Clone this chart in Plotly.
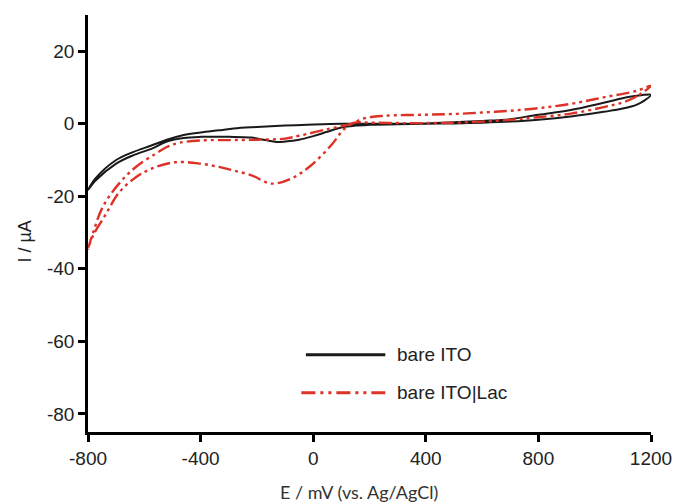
import plotly.graph_objects as go

# ---- data (E in mV, I in µA) ----
# bare ITO: cathodic scan 1200 -> -800
ito_cat_E = [1200, 1180, 1150, 1100, 1032, 915, 800, 700, 600, 500, 400, 300, 200, 150, 100, 50, 0,
             -50, -100, -130, -170, -220, -300, -400, -460, -520, -575, -640, -700, -775, -800]
ito_cat_I = [8.0, 6.6, 5.3, 4.2, 3.3, 2.0, 1.1, 0.6, 0.3, 0.1, 0.0, -0.1, -0.3, -0.5, -1.0, -2.2, -3.4,
             -4.4, -4.9, -5.0, -4.5, -3.8, -3.6, -3.6, -3.9, -4.9, -6.9, -8.7, -11.0, -15.8, -18.3]
# bare ITO: anodic scan -800 -> 1200
ito_an_E = [-800, -775, -700, -640, -575, -520, -460, -400, -335, -282, -200, -100, 0, 100, 200,
            400, 500, 600, 680, 800, 915, 1032, 1119, 1165, 1200]
ito_an_I = [-17.8, -15.2, -10.0, -7.8, -6.0, -4.4, -3.1, -2.4, -1.8, -1.3, -0.9, -0.5, -0.2, 0.0, 0.0,
            0.1, 0.4, 0.8, 1.1, 2.5, 3.8, 5.8, 7.4, 7.9, 8.0]

# bare ITO|Lac: cathodic scan 1200 -> -800
lac_cat_E = [1200, 1150, 1100, 1032, 915, 797, 700, 600, 500, 400, 300, 200, 147, 112, 63, -8,
             -78, -149, -219, -282, -335, -400, -490, -572, -631, -690, -737, -783, -800]
lac_cat_I = [10.5, 7.6, 5.9, 4.6, 2.8, 1.8, 1.1, 0.6, 0.3, 0.2, 0.2, 0.3, 0.3, -1.3, -6.0, -11.5,
             -15.1, -16.5, -14.2, -12.9, -11.9, -11.0, -10.6, -12.3, -14.8, -19.0, -25.0, -31.0, -34.5]
# bare ITO|Lac: anodic scan -800 -> 1200
lac_an_E = [-800, -783, -748, -690, -631, -561, -520, -480, -400, -300, -200, -100, -50, 50, 134, 180,
            250, 400, 500, 600, 700, 800, 915, 1032, 1150, 1200]
lac_an_I = [-34.5, -30.3, -23.0, -16.5, -12.0, -8.3, -6.4, -5.3, -4.6, -4.5, -4.4, -4.1, -3.3, -1.5, 0.0, 1.5,
            2.2, 2.5, 2.7, 3.1, 3.6, 4.3, 5.5, 7.3, 9.1, 10.5]

x_ticks = [-800, -400, 0, 400, 800, 1200]
y_ticks = [-80, -60, -40, -20, 0, 20]

legend_names = ["bare ITO", "bare ITO|Lac"]

BLACK = "#1a1a1a"
RED = "#dc3228"
RED_DASH = "13px,4px,3px,4px,3px,4px"
TEXT = "#222222"
FONT = "Liberation Sans, Arial, sans-serif"

fig = go.Figure()
fig.add_trace(go.Scatter(x=ito_cat_E + ito_an_E[1:], y=ito_cat_I + ito_an_I[1:],
                         mode="lines", line=dict(color=BLACK, width=2, shape="spline", smoothing=1.0),
                         name=legend_names[0], showlegend=False))
fig.add_trace(go.Scatter(x=lac_cat_E + lac_an_E[1:], y=lac_cat_I + lac_an_I[1:],
                         mode="lines", line=dict(color=RED, width=2.4, dash=RED_DASH,
                                                  shape="spline", smoothing=1.0),
                         name=legend_names[1], showlegend=False))

# manual legend (paper coordinates)
fig.add_shape(type="line", xref="paper", yref="paper", x0=0.387, x1=0.528, y0=0.185, y1=0.185,
              line=dict(color=BLACK, width=3))
fig.add_shape(type="line", xref="paper", yref="paper", x0=0.379, x1=0.528, y0=0.094, y1=0.094,
              line=dict(color=RED, width=3, dash="14px,5px,3px,5px,3px,5px"))
fig.add_annotation(xref="paper", yref="paper", x=0.545, y=0.185, text=legend_names[0],
                   showarrow=False, xanchor="left", yanchor="middle",
                   font=dict(family=FONT, size=19, color=TEXT))
fig.add_annotation(xref="paper", yref="paper", x=0.545, y=0.094, text=legend_names[1],
                   showarrow=False, xanchor="left", yanchor="middle",
                   font=dict(family=FONT, size=19, color=TEXT))

# axis titles
fig.add_annotation(xref="paper", yref="paper", x=(361 - 88) / 568, y=(432 - 492) / 417,
                   text="E / mV (vs. Ag/AgCl)", showarrow=False, xanchor="center", yanchor="middle",
                   font=dict(family="Lato, Open Sans, sans-serif", size=18, color="#333333"))
fig.add_annotation(xref="paper", yref="paper", x=(24 - 88) / 568, y=(432 - 242) / 417,
                   text="I / µA", showarrow=False, textangle=-90, xanchor="center", yanchor="middle",
                   font=dict(family=FONT, size=18, color=TEXT))

fig.update_xaxes(range=[-800, 1200], tickvals=x_ticks, ticktext=[str(v) for v in x_ticks],
                 showgrid=False, zeroline=False, showline=True, linecolor="black", linewidth=2.5,
                 ticks="outside", ticklen=7, tickwidth=2.5, tickcolor="black",
                 tickfont=dict(family=FONT, size=19, color=TEXT))
fig.update_yaxes(range=[-85, 30], tickvals=y_ticks, ticktext=[str(v) for v in y_ticks],
                 showgrid=False, zeroline=False, showline=True, linecolor="black", linewidth=2.5,
                 ticks="outside", ticklen=7, tickwidth=2.5, tickcolor="black",
                 tickfont=dict(family=FONT, size=19, color=TEXT))

fig.update_layout(width=684, height=504, margin=dict(l=88, r=28, t=15, b=72),
                  plot_bgcolor="white", paper_bgcolor="white", showlegend=False)

fig.write_html("out.html")
